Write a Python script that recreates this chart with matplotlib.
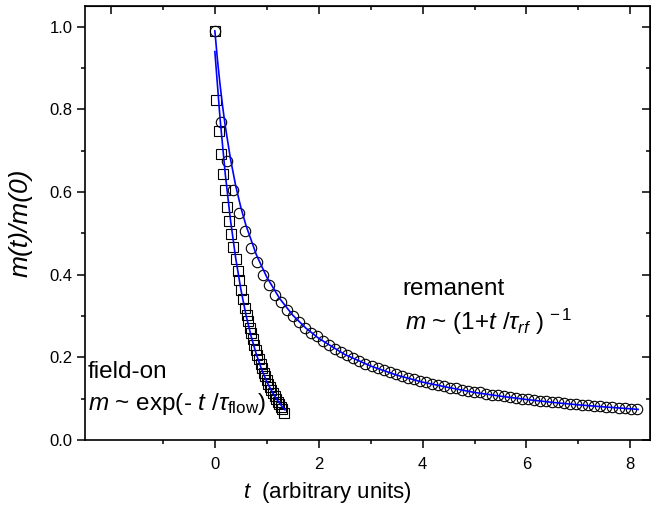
import matplotlib
matplotlib.use("Agg")
import matplotlib.pyplot as plt

plt.rcParams['font.family'] = ['Liberation Sans', 'DejaVu Sans']
plt.rcParams['mathtext.fontset'] = 'custom'
plt.rcParams['mathtext.rm'] = 'Liberation Sans'
plt.rcParams['mathtext.it'] = 'Liberation Sans:italic'

# field-on data (squares)
t_on = [0.00, 0.03, 0.08, 0.11, 0.16, 0.19, 0.24, 0.275, 0.32, 0.35, 0.40, 0.44,
        0.47, 0.51, 0.55, 0.58, 0.61, 0.64, 0.67, 0.70, 0.73, 0.76, 0.79, 0.82,
        0.85, 0.88, 0.91, 0.94, 0.97, 1.00, 1.03, 1.06, 1.09, 1.12, 1.15, 1.18,
        1.21, 1.24, 1.27, 1.30, 1.33]
m_on = [0.990, 0.823, 0.749, 0.692, 0.644, 0.604, 0.565, 0.531, 0.499, 0.468, 0.437, 0.410,
        0.386, 0.362, 0.340, 0.320, 0.302, 0.287, 0.272, 0.258, 0.244, 0.231, 0.218, 0.206,
        0.195, 0.184, 0.173, 0.163, 0.154, 0.145, 0.136, 0.128, 0.120, 0.113, 0.106, 0.099,
        0.093, 0.086, 0.080, 0.074, 0.066]

# remanent data (circles)
t_rem = [0.000, 0.116, 0.232, 0.348, 0.464, 0.580, 0.696, 0.812, 0.928, 1.044,
         1.160, 1.276, 1.392, 1.508, 1.624, 1.740, 1.856, 1.972, 2.088, 2.204,
         2.320, 2.436, 2.552, 2.668, 2.784, 2.900, 3.016, 3.132, 3.248, 3.364,
         3.480, 3.596, 3.712, 3.828, 3.944, 4.060, 4.176, 4.292, 4.408, 4.524,
         4.640, 4.756, 4.872, 4.988, 5.104, 5.220, 5.336, 5.452, 5.568, 5.684,
         5.800, 5.916, 6.032, 6.148, 6.264, 6.380, 6.496, 6.612, 6.728, 6.844,
         6.960, 7.076, 7.192, 7.308, 7.424, 7.540, 7.656, 7.772, 7.888, 8.004, 8.120]
m_rem = [0.990, 0.770, 0.675, 0.605, 0.550, 0.505, 0.465, 0.430, 0.400, 0.374,
         0.352, 0.333, 0.315, 0.301, 0.286, 0.272, 0.259, 0.251, 0.240, 0.230,
         0.221, 0.213, 0.205, 0.198, 0.192, 0.185, 0.180, 0.174, 0.169, 0.164,
         0.159, 0.155, 0.151, 0.147, 0.143, 0.140, 0.136, 0.133, 0.130, 0.127,
         0.125, 0.122, 0.119, 0.117, 0.115, 0.112, 0.110, 0.108, 0.106, 0.104,
         0.102, 0.100, 0.099, 0.097, 0.095, 0.094, 0.092, 0.091, 0.089, 0.088,
         0.087, 0.085, 0.084, 0.083, 0.082, 0.0805, 0.079, 0.078, 0.077, 0.076, 0.075]

# fit curves (blue lines)
t_fit_on = [0.0, 0.1, 0.2, 0.3, 0.4, 0.5, 0.6, 0.7, 0.8, 0.9, 1.0, 1.1, 1.2, 1.3, 1.35]
m_fit_on = [0.940, 0.778, 0.644, 0.533, 0.441, 0.365, 0.302, 0.250, 0.207, 0.171,
            0.141, 0.117, 0.097, 0.080, 0.073]

t_fit_rem = [0.0, 0.05, 0.1, 0.15, 0.2, 0.3, 0.4, 0.5, 0.6, 0.8, 1.0, 1.25, 1.5, 1.75,
             2.0, 2.5, 3.0, 3.5, 4.0, 4.5, 5.0, 5.5, 6.0, 6.5, 7.0, 7.5, 8.0, 8.15]
m_fit_rem = [0.990, 0.920, 0.860, 0.807, 0.760, 0.681, 0.616, 0.563, 0.519, 0.448,
             0.394, 0.342, 0.302, 0.271, 0.246, 0.207, 0.179, 0.157, 0.140, 0.127,
             0.115, 0.106, 0.098, 0.091, 0.085, 0.080, 0.0755, 0.074]

fig = plt.figure(figsize=(6.51, 5.08), dpi=100)
ax = fig.add_axes([0.1306, 0.1339, 0.868, 0.854])

ax.plot(t_on, m_on, 's', markersize=6.5, markerfacecolor='none',
        markeredgecolor='black', markeredgewidth=0.8)
ax.plot(t_rem, m_rem, 'o', markersize=7.5, markerfacecolor='none',
        markeredgecolor='black', markeredgewidth=0.8)
ax.plot(t_fit_on, m_fit_on, color='#0000ff', lw=1.2)
ax.plot(t_fit_rem, m_fit_rem, color='#0000ff', lw=1.2)

ax.set_xlim(-2.5, 8.38)
ax.set_ylim(0, 1.05)

ax.set_xticks([0, 2, 4, 6, 8])
ax.set_xticks([-1, 1, 3, 5, 7], minor=True)
ax.set_yticks([0.0, 0.2, 0.4, 0.6, 0.8, 1.0])
ax.set_yticks([0.1, 0.3, 0.5, 0.7, 0.9], minor=True)
ax.set_yticklabels(['0.0', '0.2', '0.4', '0.6', '0.8', '1.0'])

for s in ax.spines.values():
    s.set_linewidth(1.2)
ax.tick_params(which='major', direction='out', length=6, width=1.1, labelsize=12)
ax.tick_params(which='minor', direction='out', length=3, width=1.1)
ax.tick_params(axis='x', pad=6)
ax.tick_params(axis='y', pad=3)

# mirrored ticks pointing inward on top and right
top = ax.secondary_xaxis('top')
top.set_xticks([-2, 0, 2, 4, 6, 8])
top.set_xticks([-1, 1, 3, 5, 7], minor=True)
top.tick_params(which='major', direction='in', length=6, width=1.1, labeltop=False)
top.tick_params(which='minor', direction='in', length=3, width=1.1)
right = ax.secondary_yaxis('right')
right.set_yticks([0.0, 0.2, 0.4, 0.6, 0.8, 1.0])
right.set_yticks([0.1, 0.3, 0.5, 0.7, 0.9], minor=True)
right.tick_params(which='major', direction='in', length=6, width=1.1, labelright=False)
right.tick_params(which='minor', direction='in', length=3, width=1.1)

ax.set_xlabel(r'$t$  (arbitrary units)', fontsize=16)
ax.xaxis.set_label_coords(0.428, -0.092)
ax.set_ylabel('m(t)/m(0)', fontsize=19, fontstyle='italic')
ax.yaxis.set_label_coords(-0.092, 0.5)

ax.text(-2.45, 0.150, 'field-on', fontsize=17.5, va='baseline')
ax.text(-2.45, 0.073, r'$m$ ~ exp(- $t$ /$\tau_{\mathrm{flow}}$)', fontsize=17.5, va='baseline')
ax.text(3.62, 0.351, 'remanent', fontsize=17.5, va='baseline')
ax.text(3.66, 0.266, r'$m$ ~ (1+$t$ /$\tau_{rf}$ )$^{\,-1}$', fontsize=17.5, va='baseline')

plt.savefig('out.png', dpi=100)
